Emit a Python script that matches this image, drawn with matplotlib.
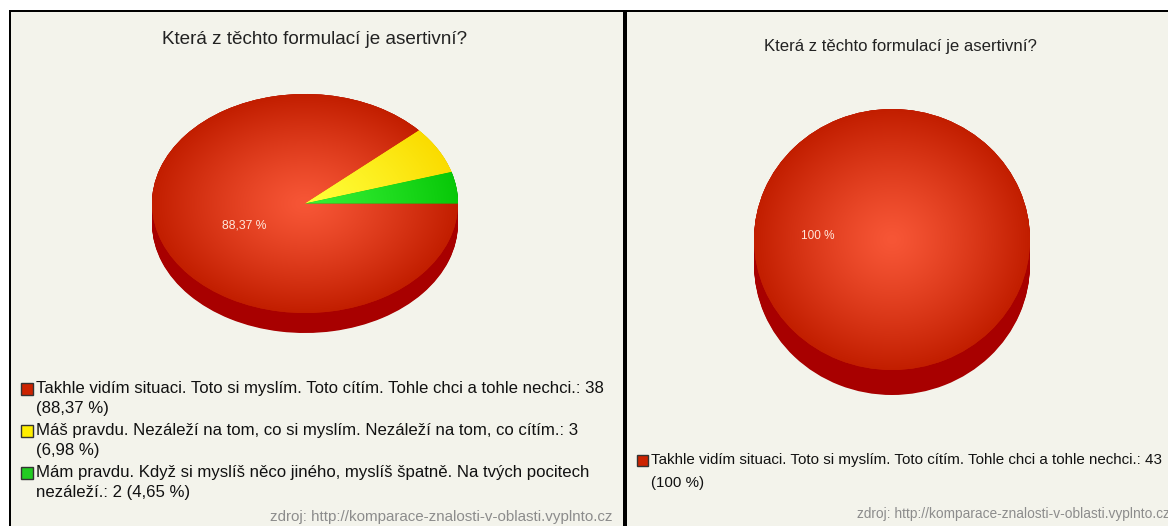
import numpy as np
import matplotlib
matplotlib.use("Agg")
import matplotlib.pyplot as plt
from matplotlib.patches import Rectangle
from matplotlib.colors import to_rgb

W, H = 1168, 526

title = "Která z těchto formulací je asertivní?"
source = "zdroj: http://komparace-znalosti-v-oblasti.vyplnto.cz"

# legend texts, already wrapped like in the original
left_labels = [
    "Takhle vidím situaci. Toto si myslím. Toto cítím. Tohle chci a tohle nechci.: {n}\n({p})",
    "Máš pravdu. Nezáleží na tom, co si myslím. Nezáleží na tom, co cítím.: {n}\n({p})",
    "Mám pravdu. Když si myslíš něco jiného, myslíš špatně. Na tvých pocitech\nnezáleží.: {n} ({p})",
]
left_counts = [38, 3, 2]

right_labels = ["Takhle vidím situaci. Toto si myslím. Toto cítím. Tohle chci a tohle nechci.: {n}\n({p})"]
right_counts = [43]

top_inner = ["#f75636", "#ffff3a", "#36f036"]
top_outer = ["#c21e00", "#fadc00", "#08c808"]
side_cols = ["#a80000", "#c8a800", "#089008"]
legend_cols = ["#cc2200", "#ffee00", "#22cc22"]

BG = "#f3f3eb"
FONT = ["Liberation Sans", "DejaVu Sans"]


def pct(v, total):
    s = f"{100.0 * v / total:.2f}".rstrip("0").rstrip(".")
    return s.replace(".", ",") + " %"


fig = plt.figure(figsize=(W / 100, H / 100), dpi=100)
fig.patch.set_facecolor("white")
bg = fig.add_axes([0, 0, 1, 1])
bg.set_xlim(0, W)
bg.set_ylim(H, 0)
bg.axis("off")

# panel frames
bg.add_patch(Rectangle((9, 10), W, H, facecolor="black", edgecolor="none"))
bg.add_patch(Rectangle((11, 12), 612, H, facecolor=BG, edgecolor="none"))
bg.add_patch(Rectangle((627, 12), W, H, facecolor=BG, edgecolor="none"))


def draw_pie(cx, cy, rx, ry, depth, counts, label_xy, label_size):
    d = depth / ry
    ax = fig.add_axes([(cx - rx) / W, 1 - (cy + ry + depth) / H,
                       2 * rx / W, (2 * ry + depth) / H])
    ax.axis("off")
    n = len(counts)
    # side of the cake
    for off in np.linspace(d, 0, 30):
        ax.pie(counts, colors=side_cols[:n], startangle=0, counterclock=False,
               center=(0, -off), radius=1, frame=True,
               wedgeprops=dict(linewidth=0))
    wedges, _ = ax.pie(counts, colors=top_outer[:n], startangle=0, counterclock=False,
                       radius=1, frame=True, wedgeprops=dict(linewidth=0))
    # radial gradient on top
    g = np.linspace(-1, 1, 300)
    xx, yy = np.meshgrid(g, g)
    r = np.clip(np.sqrt(xx ** 2 + yy ** 2), 0, 1)[..., None]
    for i, w in enumerate(wedges):
        c0 = np.array(to_rgb(top_inner[i]))
        c1 = np.array(to_rgb(top_outer[i]))
        img = c0 + (c1 - c0) * r ** 1.2
        im = ax.imshow(img, extent=(-1, 1, -1, 1), origin="lower", zorder=3,
                       interpolation="bilinear")
        im.set_clip_path(w)
    ax.set_xlim(-1, 1)
    ax.set_ylim(-1 - d, 1)
    ax.set_aspect("auto")
    ax.axis("off")
    total = sum(counts)
    ax.text(label_xy[0], label_xy[1], pct(counts[0], total), color="#ffe8dc",
            fontsize=label_size, family=FONT, ha="center", va="center", zorder=5)
    return ax


draw_pie(305, 203.5, 153, 109.5, 20, left_counts, (-0.4, -0.2), 8.7)
draw_pie(892, 239.5, 138, 130.5, 25, right_counts, (-0.54, 0.03), 8.5)

# titles
bg.text(315, 40, title, fontsize=13.6, family=FONT, ha="center", va="center", color="#222222")
bg.text(900, 46, title, fontsize=12.1, family=FONT, ha="center", va="center", color="#222222")


def legend(x, y0, labels, counts, gap, pitch, size, box):
    total = sum(counts)
    y = y0
    for i, (lab, c) in enumerate(zip(labels, counts)):
        lines = lab.format(n=c, p=pct(c, total)).split("\n")
        bg.add_patch(Rectangle((x, y - box / 2), box, box, facecolor=legend_cols[i],
                               edgecolor="#333333", linewidth=1))
        for j, line in enumerate(lines):
            bg.text(x + box + 3, y + j * pitch, line, fontsize=size, family=FONT,
                    va="center", ha="left", color="#111111")
        y += gap


legend(21, 389, left_labels, left_counts, 42, 20, 12.1, 12)
legend(637, 460, right_labels, right_counts, 43, 23, 10.9, 11)

bg.text(612, 517, source, fontsize=10.9, family=FONT, ha="right", va="center", color="#8c8c8c")
bg.text(1170, 514, source, fontsize=9.9, family=FONT, ha="right", va="center", color="#8c8c8c")

fig.savefig("out.png", dpi=100, facecolor=fig.get_facecolor())
